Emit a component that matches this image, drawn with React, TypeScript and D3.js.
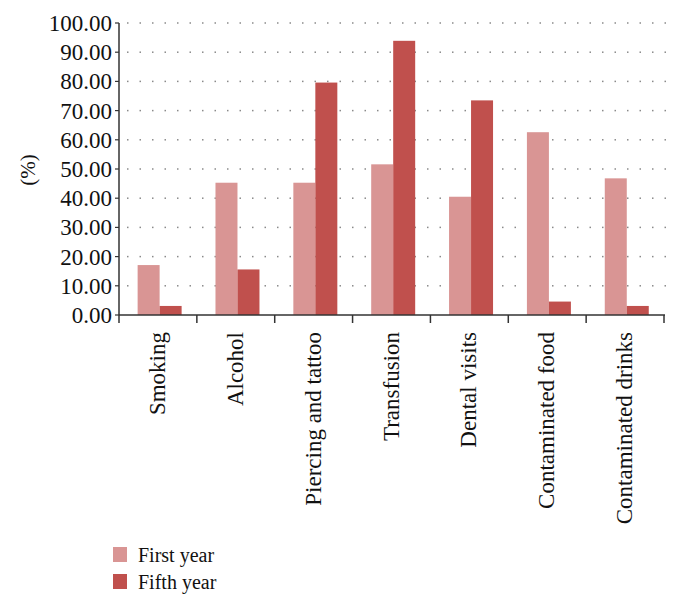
import React from "react";
import * as d3 from "d3";

const categories = ["Smoking", "Alcohol", "Piercing and tattoo", "Transfusion", "Dental visits", "Contaminated food", "Contaminated drinks"];
const seriesNames = ["First year", "Fifth year"];
const firstYear = [17.1, 45.3, 45.3, 51.6, 40.5, 62.6, 46.8];
const fifthYear = [3.1, 15.6, 79.6, 93.9, 73.5, 4.6, 3.1];
const yTicks = [0, 10, 20, 30, 40, 50, 60, 70, 80, 90, 100];
const colors = ["#D99594", "#C0504D"];

const W = 679, H = 608;
const left = 119, right = 664, top = 23, bottom = 315;
const FONT = "'Liberation Serif', 'DejaVu Serif', serif";

export default function App() {
  const x = d3.scaleBand<string>().domain(categories).range([left, right]).paddingInner(0).paddingOuter(0);
  const y = d3.scaleLinear().domain([0, 100]).range([bottom, top]);
  const sub = d3.scaleBand<string>().domain(seriesNames).range([0, x.bandwidth()]).paddingInner(0).paddingOuter(0.77).align(0.55);
  const series = [firstYear, fifthYear];
  const dots: number[] = d3.range(left + 8, right + 1, 12.5);
  return (
    <svg width={W} height={H} style={{ position: "absolute", left: 0, top: 0, background: "#fff" }} fontFamily={FONT}>
      {/* grid */}
      {yTicks.filter(t => t > 0).map(t => (
        <g key={"g" + t}>
          {dots.map((dx, i) => (
            <rect key={i} x={dx} y={y(t) - 0.75} width={1.5} height={1.5} fill="#8a8a8a" />
          ))}
        </g>
      ))}
      {/* bars */}
      {series.map((vals, si) =>
        categories.map((c, ci) => (
          <rect key={si + "-" + ci} x={(x(c) as number) + (sub(seriesNames[si]) as number)} y={y(vals[ci])}
            width={sub.bandwidth()} height={y(0) - y(vals[ci])} fill={colors[si]} />
        ))
      )}
      {/* y axis */}
      <line x1={left} x2={left} y1={top} y2={bottom} stroke="#333" strokeWidth={1.5} />
      {yTicks.map(t => (
        <g key={"y" + t}>
          <line x1={left - 4} x2={left} y1={y(t)} y2={y(t)} stroke="#333" strokeWidth={1.2} />
          <text x={left - 7} y={y(t)} dy="0.35em" textAnchor="end" fontSize={23} fill="#111">{t.toFixed(2)}</text>
        </g>
      ))}
      {/* x axis */}
      <line x1={left} x2={right + 1} y1={bottom} y2={bottom} stroke="#333" strokeWidth={1.5} />
      {categories.map((c, i) => (
        <line key={"xt" + i} x1={x(c) as number} x2={x(c) as number} y1={bottom} y2={bottom + 8} stroke="#333" strokeWidth={1.5} />
      ))}
      <line x1={right} x2={right} y1={bottom} y2={bottom + 8} stroke="#333" strokeWidth={1.5} />
      {categories.map(c => {
        const cx = (x(c) as number) + x.bandwidth() / 2;
        return (
          <text key={"l" + c} transform={`translate(${cx + 7},${bottom + 17}) rotate(-90)`} textAnchor="end" fontSize={23} fill="#111">{c}</text>
        );
      })}
      <text transform={`translate(28,170) rotate(-90)`} textAnchor="middle" dy="0.35em" fontSize={21} fill="#111">(%)</text>
      {/* legend */}
      {seriesNames.map((s, i) => (
        <g key={"leg" + s} transform={`translate(113,${547 + i * 27})`}>
          <rect x={0} y={0} width={14} height={15} fill={colors[i]} />
          <text x={25} y={8} dy="0.35em" fontSize={20} fill="#111">{s}</text>
        </g>
      ))}
    </svg>
  );
}
